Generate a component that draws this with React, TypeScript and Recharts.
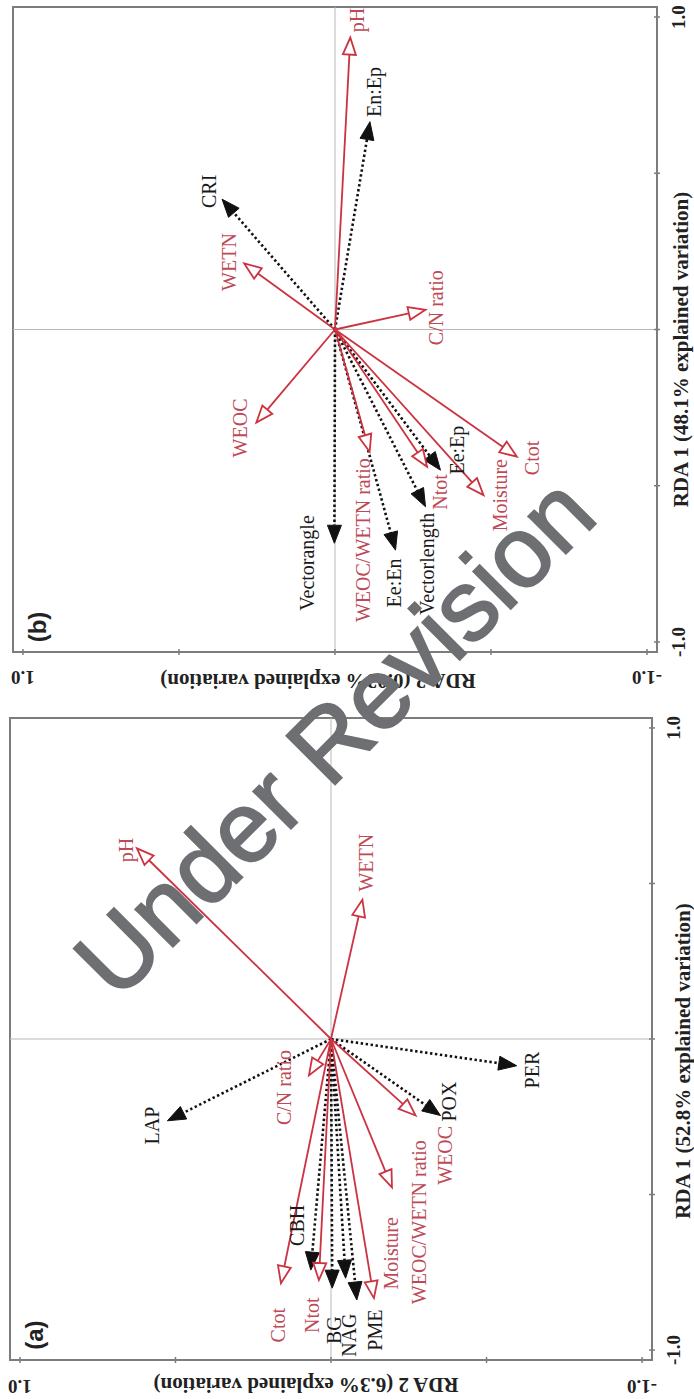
import { ReferenceArea, ReferenceLine, Scatter, ScatterChart, XAxis, YAxis } from "recharts";

// vectors: rda1 = RDA 1 score, rda2 = RDA 2 score
interface Vec {
  name: string;
  rda1: number;
  rda2: number;
}

const A_ENV: Vec[] = [
  { name: "pH", rda1: 0.613, rda2: 0.624 },
  { name: "WETN", rda1: 0.448, rda2: -0.101 },
  { name: "C/N ratio", rda1: -0.117, rda2: 0.071 },
  { name: "WEOC", rda1: -0.246, rda2: -0.272 },
  { name: "WEOC/WETN ratio", rda1: -0.477, rda2: -0.196 },
  { name: "Moisture", rda1: -0.833, rda2: -0.138 },
  { name: "Ctot", rda1: -0.785, rda2: 0.161 },
  { name: "Ntot", rda1: -0.775, rda2: 0.039 },
];
const A_ENV_LABEL_AT = [
  [0.608, 0.658], [0.567, -0.112], [-0.156, 0.151], [-0.374, -0.368],
  [-0.589, -0.283], [-0.689, -0.192], [-0.92, 0.172], [-0.888, 0.06],
];

const A_RESP: Vec[] = [
  { name: "LAP", rda1: -0.263, rda2: 0.526 },
  { name: "PER", rda1: -0.086, rda2: -0.597 },
  { name: "POX", rda1: -0.246, rda2: -0.352 },
  { name: "CBH", rda1: -0.743, rda2: 0.065 },
  { name: "BG", rda1: -0.801, rda2: -0.004 },
  { name: "NAG", rda1: -0.769, rda2: -0.047 },
  { name: "PME", rda1: -0.839, rda2: -0.083 },
];
const A_RESP_LABEL_AT = [
  [-0.278, 0.576], [-0.1, -0.647], [-0.201, -0.379], [-0.599, 0.108],
  [-0.936, -0.01], [-0.952, -0.058], [-0.936, -0.143],
];

const B_ENV: Vec[] = [
  { name: "pH", rda1: 0.934, rda2: -0.049 },
  { name: "WETN", rda1: 0.2115, rda2: 0.291 },
  { name: "C/N ratio", rda1: 0.063, rda2: -0.29 },
  { name: "WEOC", rda1: -0.298, rda2: 0.252 },
  { name: "WEOC/WETN ratio", rda1: -0.391, rda2: -0.111 },
  { name: "Ntot", rda1: -0.439, rda2: -0.295 },
  { name: "Moisture", rda1: -0.53, rda2: -0.476 },
  { name: "Ctot", rda1: -0.407, rda2: -0.583 },
];
const B_ENV_LABEL_AT = [
  [0.99, -0.069], [0.216, 0.341], [0.07, -0.325], [-0.315, 0.306],
  [-0.674, -0.091], [-0.52, -0.338], [-0.53, -0.53], [-0.411, -0.63],
];

const B_RESP: Vec[] = [
  { name: "En:Ep", rda1: 0.665, rda2: -0.112 },
  { name: "CRI", rda1: 0.417, rda2: 0.362 },
  { name: "Vectorangle", rda1: -0.684, rda2: 0.002 },
  { name: "Ee:En", rda1: -0.706, rda2: -0.194 },
  { name: "Vectorlength", rda1: -0.567, rda2: -0.29 },
  { name: "Ee:Ep", rda1: -0.45, rda2: -0.338 },
];
const B_RESP_LABEL_AT = [
  [0.76, -0.126], [0.442, 0.405], [-0.747, 0.091], [-0.811, -0.19],
  [-0.75, -0.296], [-0.386, -0.392],
];

const TICKS = [-1, -0.5, 0, 0.5, 1];
const LIM = 1.032;

const RED = "#cc3340";
const RED_TEXT = "#bd4a56";
const FRAME = "#7c7c7c";
const SERIF = "'Liberation Serif', 'Times New Roman', serif";
const SANS = "'Liberation Sans', Arial, sans-serif";

type Kind = "env" | "resp";

function arrowShape(kind: Kind) {
  return (p: any) => {
    const { x1, y1, x2, y2 } = p;
    const a = Math.atan2(y2 - y1, x2 - x1);
    const len = kind === "env" ? 17 : 18;
    const half = kind === "env" ? 6.5 : 7;
    const bx = x2 - len * Math.cos(a);
    const by = y2 - len * Math.sin(a);
    const nx = -Math.sin(a);
    const ny = Math.cos(a);
    const pts = `${x2},${y2} ${bx + nx * half},${by + ny * half} ${bx - nx * half},${by - ny * half}`;
    if (kind === "env") {
      return (
        <g>
          <line x1={x1} y1={y1} x2={bx} y2={by} stroke={RED} strokeWidth={1.8} />
          <polygon points={pts} fill="#fff" stroke={RED} strokeWidth={1.8} />
        </g>
      );
    }
    return (
      <g>
        <line
          x1={x1}
          y1={y1}
          x2={bx}
          y2={by}
          stroke="#111"
          strokeWidth={2.6}
          strokeDasharray="2.4 2.6"
        />
        <polygon points={pts} fill="#111" stroke="#111" strokeWidth={1} />
      </g>
    );
  };
}

const envArrow = arrowShape("env");
const respArrow = arrowShape("resp");

function vectorLabel(p: any) {
  const red = p.payload.kind === "env";
  return (
    <text
      x={p.cx}
      y={p.cy}
      textAnchor="middle"
      dominantBaseline="central"
      fontFamily={SERIF}
      fontSize={20}
      fill={red ? RED_TEXT : "#1a1a1a"}
    >
      {p.payload.name}
    </text>
  );
}

function tagLabel(p: any) {
  return (
    <text
      x={p.cx}
      y={p.cy}
      textAnchor="middle"
      dominantBaseline="central"
      fontFamily={SANS}
      fontWeight="bold"
      fontSize={24}
      fill="#222"
    >
      {p.payload.name}
    </text>
  );
}

const tickText = (v: number) => (v > 0 ? v.toFixed(1) : `-${Math.abs(v).toFixed(1)}`);

interface PanelProps {
  tag: string;
  env: Vec[];
  envAt: number[][];
  resp: Vec[];
  respAt: number[][];
  xTitle: string;
  yTitle: string;
  width: number;
  height: number;
  margin: { top: number; right: number; bottom: number; left: number };
  yAxisWidth: number;
  xAxisHeight: number;
  xTitleDx: number;
  xTitleDy: number;
  yTitleX: number;
  yTitleDy: number;
  xTickDy: number;
  yTickDx: number;
}

function Panel(props: PanelProps) {
  const labels = [
    ...props.env.map((v, i) => ({ name: v.name, kind: "env", rda1: props.envAt[i][0], rda2: props.envAt[i][1] })),
    ...props.resp.map((v, i) => ({ name: v.name, kind: "resp", rda1: props.respAt[i][0], rda2: props.respAt[i][1] })),
  ];
  const tag = [{ name: props.tag, rda1: -0.952, rda2: 0.952 }];

  const xTick = (p: any) => {
    const v = p.payload.value;
    return (
      <g>
        <line x1={p.x} x2={p.x} y1={p.y - 3} y2={p.y + 3} stroke={FRAME} strokeWidth={1.5} />
        {Math.abs(v) === 1 && (
          <text
            x={p.x}
            y={p.y + props.xTickDy}
            textAnchor="middle"
            dominantBaseline="central"
            fontFamily={SERIF}
            fontWeight="bold"
            fontSize={19}
            fill="#222"
          >
            {tickText(v)}
          </text>
        )}
      </g>
    );
  };

  const yTick = (p: any) => {
    const v = p.payload.value;
    const tx = p.x - props.yTickDx;
    return (
      <g>
        <line x1={p.x - 3} x2={p.x + 3} y1={p.y} y2={p.y} stroke={FRAME} strokeWidth={1.5} />
        {Math.abs(v) === 1 && (
          <text
            x={tx}
            y={p.y}
            transform={`rotate(-90 ${tx} ${p.y})`}
            textAnchor="middle"
            dominantBaseline="central"
            fontFamily={SERIF}
            fontWeight="bold"
            fontSize={19}
            fill="#222"
          >
            {tickText(v)}
          </text>
        )}
      </g>
    );
  };

  const xTitle = (p: any) => {
    const vb = p.viewBox;
    return (
      <text
        x={vb.x + vb.width / 2 + props.xTitleDx}
        y={vb.y + props.xTitleDy}
        textAnchor="middle"
        dominantBaseline="central"
        fontFamily={SERIF}
        fontWeight="bold"
        fontSize={21}
        fill="#222"
      >
        {props.xTitle}
      </text>
    );
  };

  const yTitle = (p: any) => {
    const vb = p.viewBox;
    const tx = vb.x + props.yTitleX;
    const ty = vb.y + vb.height / 2 + props.yTitleDy;
    return (
      <text
        x={tx}
        y={ty}
        transform={`rotate(-90 ${tx} ${ty})`}
        textAnchor="middle"
        dominantBaseline="central"
        fontFamily={SERIF}
        fontWeight="bold"
        fontSize={21}
        fill="#222"
      >
        {props.yTitle}
      </text>
    );
  };

  return (
    <ScatterChart width={props.width} height={props.height} margin={props.margin}>
      <XAxis
        type="number"
        dataKey="rda1"
        domain={[-LIM, LIM]}
        ticks={TICKS}
        axisLine={false}
        tickLine={false}
        tickSize={0}
        tickMargin={0}
        height={props.xAxisHeight}
        tick={xTick}
        label={{ content: xTitle }}
      />
      <YAxis
        type="number"
        dataKey="rda2"
        domain={[-LIM, LIM]}
        ticks={TICKS}
        axisLine={false}
        tickLine={false}
        tickSize={0}
        tickMargin={0}
        width={props.yAxisWidth}
        tick={yTick}
        label={{ content: yTitle }}
      />
      <ReferenceLine x={0} stroke="#b8b8b8" strokeWidth={1} />
      <ReferenceLine y={0} stroke="#b8b8b8" strokeWidth={1} />
      <ReferenceArea
        x1={-LIM}
        x2={LIM}
        y1={-LIM}
        y2={LIM}
        fill="none"
        fillOpacity={0}
        stroke={FRAME}
        strokeWidth={2}
      />
      {props.resp.map((v) => (
        <ReferenceLine
          key={`r-${v.name}`}
          segment={[{ x: 0, y: 0 }, { x: v.rda1, y: v.rda2 }]}
          shape={respArrow}
        />
      ))}
      {props.env.map((v) => (
        <ReferenceLine
          key={`e-${v.name}`}
          segment={[{ x: 0, y: 0 }, { x: v.rda1, y: v.rda2 }]}
          shape={envArrow}
        />
      ))}
      <Scatter data={labels} shape={vectorLabel} isAnimationActive={false} />
      <Scatter data={tag} shape={tagLabel} isAnimationActive={false} />
    </ScatterChart>
  );
}

// the figure is shown turned 90 degrees anticlockwise, so each panel is drawn upright and rotated
function Rotated({ top, size, children }: { top: number; size: number; children: any }) {
  return (
    <div style={{ position: "absolute", left: 0, top, width: 694, height: size }}>
      <div
        style={{
          position: "absolute",
          left: 0,
          top: 0,
          width: size,
          height: 694,
          transformOrigin: "0 0",
          transform: `translateY(${size}px) rotate(-90deg)`,
        }}
      >
        {children}
      </div>
    </div>
  );
}

export default function App() {
  return (
    <div
      style={{
        position: "absolute",
        left: 0,
        top: 0,
        width: 694,
        height: 1399,
        background: "#fff",
        overflow: "hidden",
      }}
    >
      <style>{".recharts-surface{overflow:visible}"}</style>
      <Rotated top={0} size={700}>
        <Panel
          tag="(b)"
          env={B_ENV}
          envAt={B_ENV_LABEL_AT}
          resp={B_RESP}
          respAt={B_RESP_LABEL_AT}
          xTitle="RDA 1 (48.1% explained variation)"
          yTitle="RDA 2 (0.03% explained variation)"
          width={700}
          height={694}
          margin={{ top: 13, right: 7, bottom: 0, left: 0 }}
          yAxisWidth={48}
          xAxisHeight={37}
          xTitleDx={-20}
          xTitleDy={24}
          yTitleX={19}
          yTitleDy={-17}
          xTickDy={21}
          yTickDx={25}
        />
      </Rotated>
      <Rotated top={700} size={699}>
        <Panel
          tag="(a)"
          env={A_ENV}
          envAt={A_ENV_LABEL_AT}
          resp={A_RESP}
          respAt={A_RESP_LABEL_AT}
          xTitle="RDA 1 (52.8% explained variation)"
          yTitle="RDA 2 (6.3% explained variation)"
          width={699}
          height={694}
          margin={{ top: 10, right: 18, bottom: 0, left: 0 }}
          yAxisWidth={39}
          xAxisHeight={42}
          xTitleDx={-22}
          xTitleDy={31}
          yTitleX={14}
          yTitleDy={-25}
          xTickDy={21}
          yTickDx={26}
        />
      </Rotated>
      <div
        style={{
          position: "absolute",
          left: 334,
          top: 736,
          transform: "translate(-50%, -50%) rotate(-45deg)",
          fontFamily: SANS,
          fontSize: 100,
          lineHeight: 1,
          color: "#6e6f72",
          WebkitTextStroke: "2px #6e6f72",
          whiteSpace: "nowrap",
          pointerEvents: "none",
        }}
      >
        Under Revision
      </div>
    </div>
  );
}
